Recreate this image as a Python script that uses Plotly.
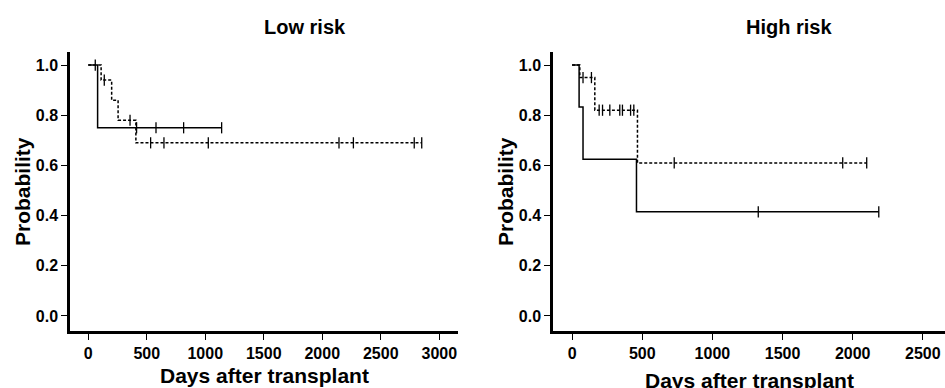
import plotly.graph_objects as go

# ---------------- data ----------------
# Low risk
low_solid_t = [0, 80, 1140]
low_solid_s = [1.0, 0.75, 0.75]
low_solid_cens_t = [60, 413, 579, 815, 1140]
low_solid_cens_s = [1.0, 0.75, 0.75, 0.75, 0.75]

low_dash_t = [0, 110, 200, 255, 407, 2850]
low_dash_s = [1.0, 0.94, 0.86, 0.78, 0.69, 0.69]
low_dash_cens_t = [137, 357, 533, 647, 1026, 2143, 2266, 2786, 2850]
low_dash_cens_s = [0.94, 0.78, 0.69, 0.69, 0.69, 0.69, 0.69, 0.69, 0.69]

# High risk
high_solid_t = [0, 50, 78, 459, 2186]
high_solid_s = [1.0, 0.833, 0.625, 0.415, 0.415]
high_solid_cens_t = [1327, 2186]
high_solid_cens_s = [0.415, 0.415]

high_dash_t = [0, 55, 162, 466, 2100]
high_dash_s = [1.0, 0.95, 0.82, 0.61, 0.61]
high_dash_cens_t = [78, 138, 193, 217, 269, 340, 359, 417, 440, 728, 1929, 2100]
high_dash_cens_s = [0.95, 0.95, 0.82, 0.82, 0.82, 0.82, 0.82, 0.82, 0.82, 0.61, 0.61, 0.61]

panel_titles = ["Low risk", "High risk"]
x_title = "Days after transplant"
y_title = "Probability"
y_ticks = [0.0, 0.2, 0.4, 0.6, 0.8, 1.0]
y_ticklabels = ["0.0", "0.2", "0.4", "0.6", "0.8", "1.0"]
x_ticks_low = [0, 500, 1000, 1500, 2000, 2500, 3000]
x_ticks_high = [0, 500, 1000, 1500, 2000, 2500]

# ---------------- figure ----------------
W, H = 945, 388
fig = go.Figure()

def add_curve(t, s, ct, cs, dash, xa, ya):
    fig.add_trace(go.Scatter(x=t, y=s, mode="lines", line=dict(color="black", width=1.5, dash=dash, shape="hv"),
                             xaxis=xa, yaxis=ya, showlegend=False, hoverinfo="skip"))
    fig.add_trace(go.Scatter(x=ct, y=cs, mode="markers",
                             marker=dict(symbol="line-ns-open", size=8, color="black",
                                         line=dict(color="black", width=1.3)),
                             xaxis=xa, yaxis=ya, showlegend=False, hoverinfo="skip"))

add_curve(low_solid_t, low_solid_s, low_solid_cens_t, low_solid_cens_s, "solid", "x", "y")
add_curve(low_dash_t, low_dash_s, low_dash_cens_t, low_dash_cens_s, "3px,2px", "x", "y")
add_curve(high_solid_t, high_solid_s, high_solid_cens_t, high_solid_cens_s, "solid", "x2", "y2")
add_curve(high_dash_t, high_dash_s, high_dash_cens_t, high_dash_cens_s, "3px,2px", "x2", "y2")

tickfont = dict(family="Liberation Sans", size=16, color="black", weight="bold")
ydom = [(H - 331) / H, (H - 52) / H]
axis_common = dict(showgrid=False, zeroline=False, showline=True, linecolor="black", linewidth=2.5,
                   ticks="outside", ticklen=6, tickwidth=1.3, tickcolor="black", tickfont=tickfont)

fig.update_layout(
    width=W, height=H, margin=dict(l=0, r=0, t=0, b=0),
    paper_bgcolor="white", plot_bgcolor="white",
    xaxis=dict(domain=[70 / W, 458 / W], range=[-156, 3160], tickvals=x_ticks_low, anchor="y", **axis_common),
    yaxis=dict(domain=ydom, range=[-0.06, 1.052], tickvals=y_ticks, ticktext=y_ticklabels, anchor="x", **axis_common),
    xaxis2=dict(domain=[553 / W, 1.0], range=[-136, 2658], tickvals=x_ticks_high, anchor="y2", **axis_common),
    yaxis2=dict(domain=ydom, range=[-0.06, 1.052], tickvals=y_ticks, ticktext=y_ticklabels, anchor="x2", **axis_common),
)

title_font = dict(family="Liberation Sans", size=20, color="black", weight="bold")
label_font = dict(family="Liberation Sans", size=21, color="black", weight="bold")
ylabel_font = dict(family="Liberation Sans", size=21, color="black", weight="bold")

anns = []
for cx, txt in [(305 / W, panel_titles[0]), (789 / W, panel_titles[1])]:
    anns.append(dict(x=cx, y=1 - 27 / H, xref="paper", yref="paper", text=txt, showarrow=False,
                     font=title_font, xanchor="center", yanchor="middle"))
anns.append(dict(x=264 / W, y=1 - 375 / H, xref="paper", yref="paper", text=x_title, showarrow=False,
                 font=label_font, xanchor="center", yanchor="middle"))
anns.append(dict(x=749 / W, y=1 - 380 / H, xref="paper", yref="paper", text=x_title, showarrow=False,
                 font=label_font, xanchor="center", yanchor="middle"))
for px in [22, 505]:
    anns.append(dict(x=px / W, y=1 - 192 / H, xref="paper", yref="paper", text=y_title, showarrow=False,
                     font=ylabel_font, textangle=-90, xanchor="center", yanchor="middle"))
fig.update_layout(annotations=anns)

fig.write_html("out.html")
